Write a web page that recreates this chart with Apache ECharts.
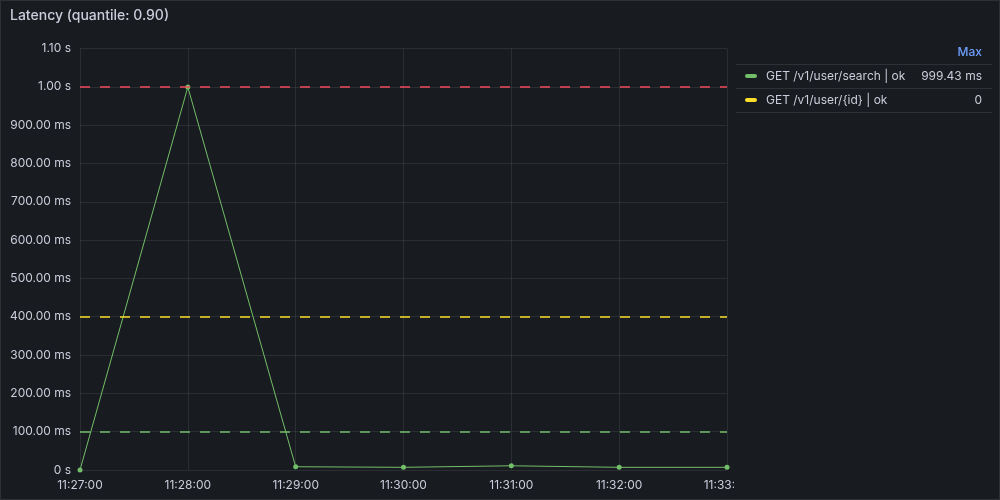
<!DOCTYPE html>
<html>
<head>
<meta charset="utf-8">
<script src="https://cdn.jsdelivr.net/npm/echarts@6/dist/echarts.min.js"></script>
<style>
html,body{margin:0;padding:0;background:#181b1f;}
#c{width:1000px;height:500px;}
</style>
</head>
<body>
<div id="c"></div>
<script>
const title = 'Latency (quantile: 0.90)';
const categories = ['11:27:00','11:28:00','11:29:00','11:30:00','11:31:00','11:32:00','11:33:00'];
const searchName = 'GET /v1/user/search | ok';
const searchValues = [0, 999.43, 8.5, 7, 11, 7, 7];
const idName = 'GET /v1/user/{id} | ok';
const idValues = [null, null, null, null, null, null, null];
const thresholds = [
  {value: 1000, color: '#f2495c'},
  {value: 400, color: '#fade2a'},
  {value: 100, color: '#73bf69'}
];
const legendMax = ['999.43 ms', '0'];
const yMax = 1100, yInterval = 100;

const font = 'Inter, "Noto Sans", sans-serif';
const textColor = '#ccccdc';

function fmtY(v){
  if (v === 0) return '0 s';
  if (v >= 1000) return (v/1000).toFixed(2) + ' s';
  return v.toFixed(2) + ' ms';
}

const chart = echarts.init(document.getElementById('c'), null, {renderer:'canvas'});
const legendRows = [
  {name: searchName, color: '#73bf69', max: legendMax[0]},
  {name: idName, color: '#fade2a', max: legendMax[1]}
];
const graphic = [
  {type:'rect', shape:{x:0.5,y:0.5,width:999,height:499}, style:{fill:'none', stroke:'rgba(204,204,220,0.12)', lineWidth:1}, silent:true, z:-1},
  {type:'text', left:10, top:9, style:{text:title, fill:textColor, font:'500 14px ' + font}},
  {type:'rect', shape:{x:734,y:474,width:24,height:22}, style:{fill:'#181b1f'}, z:100},
  {type:'text', x:982, y:52, style:{text:'Max', fill:'#6e9fff', font:'500 12px ' + font, align:'right', verticalAlign:'middle'}, z:101},
  {type:'line', shape:{x1:736,y1:64.5,x2:992,y2:64.5}, style:{stroke:'rgba(204,204,220,0.12)', lineWidth:1}, z:101}
];
legendRows.forEach((r,i)=>{
  const cy = 76 + i*24;
  graphic.push({type:'rect', shape:{x:745,y:cy-2,width:12,height:4,r:2}, style:{fill:r.color}, z:101});
  graphic.push({type:'text', x:766, y:cy, style:{text:r.name, fill:textColor, font:'12px ' + font, verticalAlign:'middle'}, z:101});
  graphic.push({type:'text', x:982, y:cy, style:{text:r.max, fill:textColor, font:'12px ' + font, align:'right', verticalAlign:'middle'}, z:101});
  graphic.push({type:'line', shape:{x1:736,y1:cy+12.5,x2:992,y2:cy+12.5}, style:{stroke:'rgba(204,204,220,0.12)', lineWidth:1}, z:101});
});

chart.setOption({
  backgroundColor:'#181b1f',
  animation:false,
  grid:{left:80, right:273, top:48.5, bottom:30, containLabel:false},
  xAxis:{
    type:'category', data:categories, boundaryGap:false,
    axisLine:{show:false}, axisTick:{show:false},
    axisLabel:{color:textColor, fontFamily:font, fontSize:12, margin:9, showMaxLabel:true},
    splitLine:{show:true, lineStyle:{color:'rgba(204,204,220,0.1)', width:1}}
  },
  yAxis:{
    type:'value', min:0, max:yMax, interval:yInterval,
    axisLine:{show:false}, axisTick:{show:false},
    axisLabel:{color:textColor, fontFamily:font, fontSize:12, margin:9, formatter:fmtY},
    splitLine:{show:true, lineStyle:{color:'rgba(204,204,220,0.1)', width:1}}
  },
  series:[
    {name:idName, type:'line', data:idValues, symbol:'circle', symbolSize:5,
     itemStyle:{color:'#fade2a'}, lineStyle:{color:'#fade2a', width:1}},
    {name:searchName, type:'line', data:searchValues, symbol:'circle', symbolSize:5,
     itemStyle:{color:'#73bf69'}, lineStyle:{color:'#73bf69', width:1},
     markLine:{silent:true, symbol:'none', label:{show:false},
       data: thresholds.map(t=>({yAxis:t.value, lineStyle:{color:t.color, type:[10,10], width:1.5}}))},
     z:3}
  ],
  graphic: graphic
});
</script>
</body>
</html>
